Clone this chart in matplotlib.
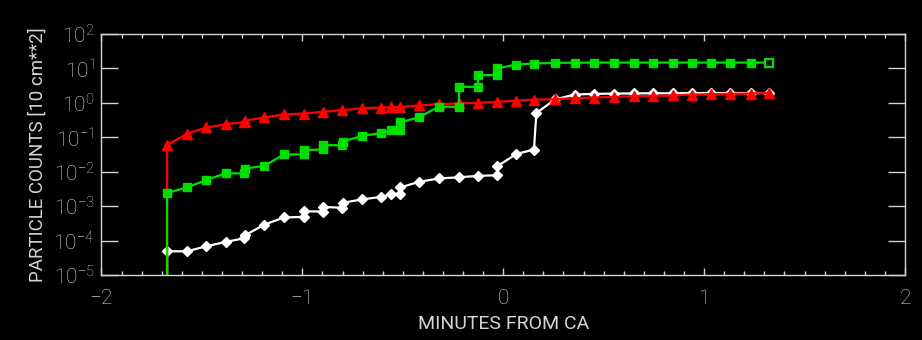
import numpy as np
import matplotlib
matplotlib.use("Agg")
import matplotlib.pyplot as plt
from matplotlib.ticker import LogLocator, NullLocator, MultipleLocator

# time grid (minutes from closest approach); near-duplicate times give the steps
t_white = [-1.673, -1.673, -1.573, -1.477, -1.379, -1.290, -1.284, -1.190, -1.092,
           -0.994, -0.992, -0.898, -0.895, -0.803, -0.800, -0.705, -0.608, -0.561,
           -0.515, -0.512, -0.419, -0.319, -0.221, -0.127, -0.032, -0.029, 0.066,
           0.153, 0.165, 0.259, 0.356, 0.452, 0.550, 0.649, 0.744, 0.843, 0.938,
           1.032, 1.127, 1.231, 1.321]
n_white = [1e-7, 4.9e-5, 4.9e-5, 6.9e-5, 9.2e-5, 1.17e-4, 1.44e-4, 2.9e-4, 4.7e-4,
           4.9e-4, 7.1e-4, 7.0e-4, 9.5e-4, 9.0e-4, 1.25e-3, 1.57e-3, 1.86e-3, 2.2e-3,
           2.3e-3, 3.5e-3, 5.1e-3, 6.4e-3, 6.9e-3, 7.6e-3, 7.9e-3, 1.45e-2, 3.3e-2,
           4.4e-2, 0.51, 1.26, 1.75, 1.82, 1.86, 1.88, 1.90, 1.90, 1.92,
           1.92, 1.93, 1.93, 1.93]

t_red = [-1.673, -1.673, -1.573, -1.477, -1.379, -1.290, -1.284, -1.190, -1.092,
         -0.994, -0.898, -0.803, -0.705, -0.608, -0.561, -0.515, -0.419, -0.319,
         -0.221, -0.127, -0.032, 0.066, 0.153, 0.259, 0.356, 0.452, 0.550, 0.649,
         0.744, 0.843, 0.938, 1.032, 1.127, 1.231, 1.321]
n_red = [1e-7, 0.059, 0.129, 0.193, 0.240, 0.275, 0.304, 0.377, 0.46,
         0.49, 0.55, 0.61, 0.70, 0.73, 0.75, 0.765, 0.84, 0.92,
         0.96, 1.01, 1.07, 1.16, 1.24, 1.28, 1.37, 1.43, 1.49, 1.57,
         1.60, 1.64, 1.75, 1.79, 1.83, 1.87, 1.95]

t_green = [-1.673, -1.673, -1.573, -1.477, -1.379, -1.290, -1.284, -1.190, -1.092,
           -0.994, -0.992, -0.898, -0.896, -0.803, -0.800, -0.705, -0.608, -0.561,
           -0.515, -0.512, -0.419, -0.319, -0.221, -0.219, -0.127, -0.125, -0.032,
           -0.030, 0.066, 0.153, 0.259, 0.356, 0.452, 0.550, 0.649, 0.744, 0.843,
           0.938, 1.032, 1.127, 1.231, 1.321]
n_green = [1e-7, 2.43e-3, 3.5e-3, 5.8e-3, 9.1e-3, 8.9e-3, 1.24e-2, 1.48e-2, 3.17e-2,
           3.2e-2, 4.23e-2, 4.43e-2, 5.9e-2, 5.9e-2, 7.36e-2, 0.110, 0.132, 0.161,
           0.161, 0.27, 0.385, 0.776, 0.765, 2.92, 2.92, 6.4, 6.4,
           10.0, 13.0, 13.9, 14.5, 14.7, 14.8, 14.8, 14.8, 14.8, 14.8,
           14.8, 14.8, 14.8, 14.8, 14.8]

fg = "#d4d4d4"
plt.rcParams["font.family"] = ["Roboto", "DejaVu Sans"]
plt.rcParams["font.weight"] = "light"
plt.rcParams["mathtext.fontset"] = "custom"
plt.rcParams["mathtext.rm"] = "Roboto:light"
plt.rcParams["mathtext.it"] = "Roboto:light"
plt.rcParams["axes.unicode_minus"] = True

fig = plt.figure(figsize=(9.22, 3.40), dpi=100, facecolor="black")
ax = fig.add_axes([0.110, 0.191, 0.8716, 0.709], facecolor="black")

lw = 1.6
ax.plot(t_white, n_white, color="white", lw=lw, marker="D", ms=5.5,
        mec="white", mfc="white")
ax.plot(t_red, n_red, color="#ff0000", lw=lw, marker="^", ms=7.0,
        mec="#ff0000", mfc="#ff0000")
ax.plot(t_green, n_green, color="#00e000", lw=lw, marker="s", ms=5.6,
        mec="#00e000", mfc="#00e000")
# last green sample drawn as an open square
ax.plot(t_green[-1], n_green[-1], ls="none", marker="s", ms=5.6,
        mec="#00e000", mfc="black", mew=1.5)

ax.set_yscale("log")
ax.set_xlim(-2, 2)
ax.set_ylim(1e-5, 1e2)
ax.xaxis.set_major_locator(MultipleLocator(1))
ax.xaxis.set_minor_locator(MultipleLocator(0.1))
ax.yaxis.set_major_locator(LogLocator(base=10, numticks=12))
ax.yaxis.set_minor_locator(NullLocator())

for s in ax.spines.values():
    s.set_color(fg)
    s.set_linewidth(1.0)

ax.tick_params(axis="x", which="major", direction="in", length=5, width=1,
               color=fg, labelcolor=fg, labelsize=15, top=True, pad=10)
ax.tick_params(axis="x", which="minor", direction="in", length=3, width=1,
               color=fg, top=True)
ax.tick_params(axis="y", which="major", direction="in", length=12, width=1,
               color=fg, labelcolor=fg, labelsize=15, right=True, pad=5)

ax.set_xlabel("MINUTES FROM CA", color=fg, fontsize=14, labelpad=5)
ax.set_ylabel("PARTICLE COUNTS [10 cm**2]", color=fg, fontsize=13.5, labelpad=5)

fig.savefig("out.png", dpi=100, facecolor="black")
